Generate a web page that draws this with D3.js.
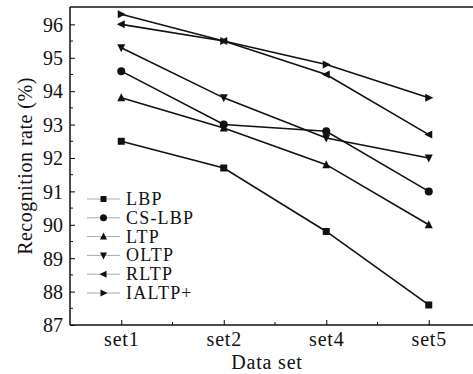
<!DOCTYPE html>
<html>
<head>
<meta charset="utf-8">
<script src="https://cdn.jsdelivr.net/npm/d3@7"></script>
<style>
  body { margin: 0; background: #fff; }
  svg { display: block; }
  svg text { font-family: "Liberation Serif", "Times New Roman", serif; }
</style>
</head>
<body>
<svg id="chart" width="473" height="374"></svg>
<script>
// data
const dataSets = ["set1", "set2", "set4", "set5"];
const lbp    = [92.5, 91.7, 89.8, 87.6];
const cslbp  = [94.6, 93.0, 92.8, 91.0];
const ltp    = [93.8, 92.9, 91.8, 90.0];
const oltp   = [95.3, 93.8, 92.6, 92.0];
const rltp   = [96.0, 95.5, 94.5, 92.7];
const ialtp  = [96.3, 95.5, 94.8, 93.8];
const yTicks = [87, 88, 89, 90, 91, 92, 93, 94, 95, 96];

const series = [
  { name: "LBP", values: lbp, marker: "square" },
  { name: "CS-LBP", values: cslbp, marker: "circle" },
  { name: "LTP", values: ltp, marker: "up" },
  { name: "OLTP", values: oltp, marker: "down" },
  { name: "RLTP", values: rltp, marker: "left" },
  { name: "IALTP+", values: ialtp, marker: "right" }
];

const svg = d3.select("#chart");
const mLeft = 70, mTop = 7, mBottom = 325;
const step = 102.5;

const x = d3.scalePoint().domain(dataSets).range([mLeft + step / 2, mLeft + step * 3.5]);
const y = d3.scaleLinear().domain([87, 96.52]).range([mBottom, mTop]);

// marker shapes
function markerPath(type, cx, cy, s) {
  const h = s / 2;
  switch (type) {
    case "square": return `M${cx - h},${cy - h}h${s}v${s}h${-s}Z`;
    case "up": return `M${cx},${cy - h - 1}L${cx + h + 0.5},${cy + h}L${cx - h - 0.5},${cy + h}Z`;
    case "down": return `M${cx},${cy + h + 1}L${cx + h + 0.5},${cy - h}L${cx - h - 0.5},${cy - h}Z`;
    case "left": return `M${cx - h - 1},${cy}L${cx + h},${cy - h - 0.5}L${cx + h},${cy + h + 0.5}Z`;
    case "right": return `M${cx + h + 1},${cy}L${cx - h},${cy - h - 0.5}L${cx - h},${cy + h + 0.5}Z`;
  }
  return "";
}

function drawMarker(g, type, cx, cy, s) {
  if (type === "circle") {
    g.append("circle").attr("cx", cx).attr("cy", cy).attr("r", s / 2 + 0.5).attr("fill", "#111");
  } else {
    g.append("path").attr("d", markerPath(type, cx, cy, s)).attr("fill", "#111");
  }
}

// axes frame
svg.append("line").attr("x1", mLeft).attr("x2", 473).attr("y1", mTop).attr("y2", mTop)
  .attr("stroke", "#111").attr("stroke-width", 1.5);

const yAxis = svg.append("g").attr("transform", `translate(${mLeft},0)`)
  .call(d3.axisLeft(y).tickValues(yTicks).tickSize(-5).tickPadding(7).tickFormat(d3.format("d")));
yAxis.attr("font-family", null).attr("font-size", 20);
yAxis.select(".domain").attr("d", `M0,${mTop}V${mBottom}`).attr("stroke", "#111").attr("stroke-width", 1.5);
yAxis.selectAll("text").attr("fill", "#111").attr("dy", "0.34em");

const yMinor = d3.range(87.5, 96.5, 1);
svg.append("g").selectAll("line").data(yMinor).join("line")
  .attr("x1", mLeft).attr("x2", mLeft + 3).attr("y1", d => y(d)).attr("y2", d => y(d))
  .attr("stroke", "#111");

const xAxis = svg.append("g").attr("transform", `translate(0,${mBottom})`)
  .call(d3.axisBottom(x).tickSize(-5).tickPadding(7));
xAxis.attr("font-family", null).attr("font-size", 20);
xAxis.select(".domain").attr("d", `M${mLeft},0H473`).attr("stroke", "#111").attr("stroke-width", 1.5);
xAxis.selectAll("text").attr("fill", "#111").attr("letter-spacing", 0.8);

svg.append("g").selectAll("line").data(dataSets.slice(0, 3)).join("line")
  .attr("x1", d => x(d) + step / 2).attr("x2", d => x(d) + step / 2)
  .attr("y1", mBottom).attr("y2", mBottom - 3).attr("stroke", "#111");

// axis titles
svg.append("text").attr("x", 267).attr("y", 369).attr("text-anchor", "middle")
  .attr("font-size", 20).attr("fill", "#111").attr("letter-spacing", 0.8).text("Data set");
svg.append("text").attr("transform", `translate(32,166) rotate(-90)`).attr("text-anchor", "middle")
  .attr("font-size", 20).attr("fill", "#111").attr("letter-spacing", 0.5).text("Recognition rate (%)");

// series lines and markers
const line = d3.line().x((d, i) => x(dataSets[i])).y(d => y(d));
const plot = svg.append("g");
series.forEach(s => {
  plot.append("path").attr("d", line(s.values)).attr("fill", "none")
    .attr("stroke", "#111").attr("stroke-width", 1.6);
});
series.forEach(s => {
  const g = plot.append("g");
  s.values.forEach((v, i) => drawMarker(g, s.marker, x(dataSets[i]), y(v), 7));
});

// legend
const legend = svg.append("g");
series.forEach((s, i) => {
  const ly = 199 + i * 18.8;
  legend.append("line").attr("x1", 87).attr("x2", 120).attr("y1", ly).attr("y2", ly)
    .attr("stroke", "#aaa").attr("stroke-width", 1);
  drawMarker(legend, s.marker, 103.5, ly, 6);
  legend.append("text").attr("x", 126).attr("y", ly + 6).attr("font-size", 18)
    .attr("letter-spacing", 1.2).attr("fill", "#111").text(s.name);
});
</script>
</body>
</html>
